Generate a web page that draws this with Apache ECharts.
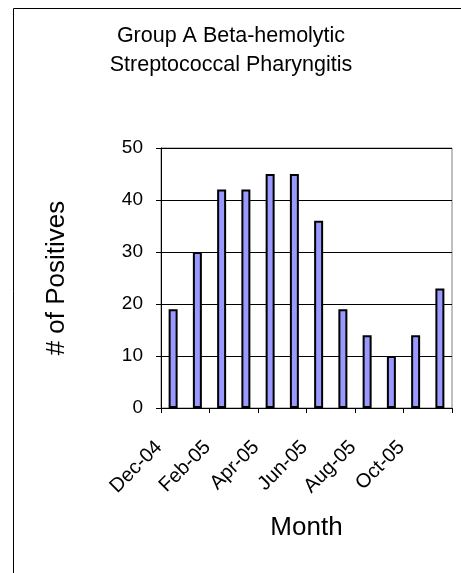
<!DOCTYPE html>
<html><head><meta charset="utf-8">
<script src="https://cdn.jsdelivr.net/npm/echarts@6/dist/echarts.min.js"></script>
<style>html,body{margin:0;padding:0;background:#fff}#c{width:461px;height:573px}</style>
</head><body><div id="c"></div>
<script>
var titleText = "Group A Beta-hemolytic\nStreptococcal Pharyngitis";
var categories = ["Dec-04","Jan-05","Feb-05","Mar-05","Apr-05","May-05","Jun-05","Jul-05","Aug-05","Sep-05","Oct-05","Nov-05"];
var positives = [19, 30, 42, 42, 45, 45, 36, 19, 14, 10, 14, 23];
var yTicks = [0, 10, 20, 30, 40, 50];
var xAxisName = "Month";
var yAxisName = "# of Positives";

var chart = echarts.init(document.getElementById('c'), null, {renderer:'canvas'});
var font = "'Liberation Sans', Arial, sans-serif";
chart.setOption({
  animation: false,
  backgroundColor: '#fff',
  graphic: [{type:'rect', shape:{x:13.5, y:8.5, width:700, height:700}, style:{fill:'none', stroke:'#000', lineWidth:1}, z:-1}],
  title: {
    text: titleText, left: 226, top: 17, textAlign: 'center',
    textStyle: {fontFamily: font, fontSize: 21.5, fontWeight: 'normal', color: '#000', lineHeight: 29}
  },
  grid: {left: 161, top: 148, right: 9, bottom: 165, show: true, borderColor: '#808080', borderWidth: 1, backgroundColor: 'transparent'},
  xAxis: {
    type: 'category', data: categories, boundaryGap: true,
    name: xAxisName, nameLocation: 'middle', nameGap: 107,
    nameTextStyle: {fontFamily: font, fontSize: 26, color: '#000'},
    axisLine: {show: true, lineStyle: {color: '#000', width: 1}},
    axisTick: {show: true, interval: 1, length: 5, inside: false, lineStyle: {color: '#000'}},
    axisLabel: {interval: 1, rotate: 45, margin: 22, padding: [0, 20, 0, 0], fontFamily: font, fontSize: 20, color: '#000'},
    splitLine: {show: false}
  },
  yAxis: {
    type: 'value', min: yTicks[0], max: yTicks[yTicks.length-1], interval: 10,
    name: yAxisName, nameLocation: 'middle', nameGap: 91,
    nameTextStyle: {fontFamily: font, fontSize: 26, color: '#000'},
    axisLine: {show: true, lineStyle: {color: '#000', width: 1}},
    axisTick: {show: true, length: 5, inside: false, lineStyle: {color: '#000'}},
    axisLabel: {margin: 18, fontFamily: font, fontSize: 19, color: '#000'},
    splitLine: {show: true, lineStyle: {color: '#000', width: 1}}
  },
  series: [{
    type: 'bar', data: positives, barWidth: 9,
    itemStyle: {color: '#9999FF', borderColor: '#000', borderWidth: 2}
  }]
});
</script></body></html>
